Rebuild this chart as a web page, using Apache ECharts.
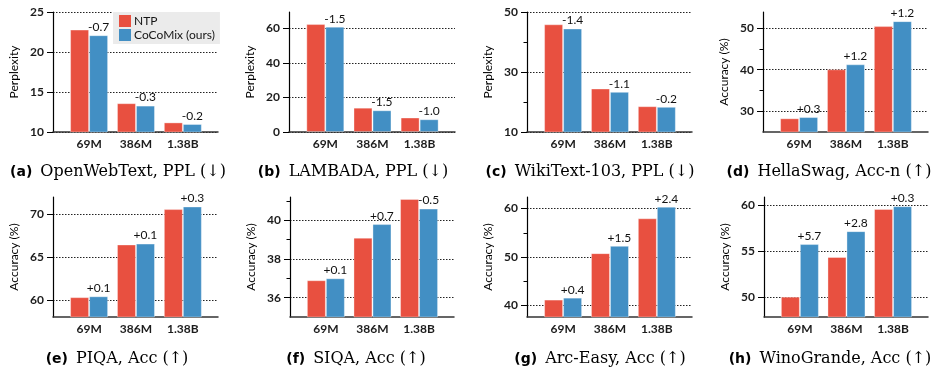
<!DOCTYPE html>
<html><head><meta charset="utf-8">
<script src="https://cdn.jsdelivr.net/npm/echarts@6/dist/echarts.min.js"></script>
<style>html,body{margin:0;padding:0;background:#fff}#c{width:937px;height:381px}</style>
</head><body><div id="c"></div>
<script>
// ---- data ----
const categories = ['69M', '386M', '1.38B'];
const seriesNames = ['NTP', 'CoCoMix (ours)'];
const panelLetters = ['(a)', '(b)', '(c)', '(d)', '(e)', '(f)', '(g)', '(h)'];
const panelTitles = ['OpenWebText, PPL (↓)', 'LAMBADA, PPL (↓)', 'WikiText-103, PPL (↓)', 'HellaSwag, Acc-n (↑)',
                     'PIQA, Acc (↑)', 'SIQA, Acc (↑)', 'Arc-Easy, Acc (↑)', 'WinoGrande, Acc (↑)'];
const yAxisNames = ['Perplexity', 'Perplexity', 'Perplexity', 'Accuracy (%)',
                    'Accuracy (%)', 'Accuracy (%)', 'Accuracy (%)', 'Accuracy (%)'];

const ntpA = [22.8, 13.6, 11.2];  const cocoA = [22.1, 13.3, 11.0];  const diffA = ['-0.7', '-0.3', '-0.2'];
const ntpB = [62.6, 14.1, 8.4];   const cocoB = [61.1, 12.6, 7.4];   const diffB = ['-1.5', '-1.5', '-1.0'];
const ntpC = [45.9, 24.5, 18.6];  const cocoC = [44.5, 23.4, 18.4];  const diffC = ['-1.4', '-1.1', '-0.2'];
const ntpD = [28.3, 40.1, 50.5];  const cocoD = [28.6, 41.3, 51.7];  const diffD = ['+0.3', '+1.2', '+1.2'];
const ntpE = [60.4, 66.5, 70.6];  const cocoE = [60.5, 66.6, 70.9];  const diffE = ['+0.1', '+0.1', '+0.3'];
const ntpF = [36.9, 39.1, 41.1];  const cocoF = [37.0, 39.8, 40.6];  const diffF = ['+0.1', '+0.7', '-0.5'];
const ntpG = [41.2, 50.8, 58.0];  const cocoG = [41.6, 52.3, 60.4];  const diffG = ['+0.4', '+1.5', '+2.4'];
const ntpH = [50.1, 54.4, 59.6];  const cocoH = [55.8, 57.2, 59.9];  const diffH = ['+5.7', '+2.8', '+0.3'];

const yTicksA = [10, 15, 20, 25]; const yMinorA = [];
const yTicksB = [0, 20, 40, 60];  const yMinorB = [];
const yTicksC = [10, 30, 50];     const yMinorC = [20, 40];
const yTicksD = [30, 40, 50];     const yMinorD = [35, 45];
const yTicksE = [60, 65, 70];     const yMinorE = [];
const yTicksF = [36, 38, 40];     const yMinorF = [37, 39, 41];
const yTicksG = [40, 50, 60];     const yMinorG = [45, 55];
const yTicksH = [50, 55, 60];     const yMinorH = [];

const yRangeA = [10, 25];   const yRangeB = [0, 69.6];  const yRangeC = [10, 50];   const yRangeD = [25, 53.9];
const yRangeE = [58.1, 72]; const yRangeF = [35, 41.2]; const yRangeG = [37.6, 62.4]; const yRangeH = [47.9, 60.9];

const ntpAll = [ntpA, ntpB, ntpC, ntpD, ntpE, ntpF, ntpG, ntpH];
const cocoAll = [cocoA, cocoB, cocoC, cocoD, cocoE, cocoF, cocoG, cocoH];
const diffAll = [diffA, diffB, diffC, diffD, diffE, diffF, diffG, diffH];
const ticksAll = [yTicksA, yTicksB, yTicksC, yTicksD, yTicksE, yTicksF, yTicksG, yTicksH];
const minorAll = [yMinorA, yMinorB, yMinorC, yMinorD, yMinorE, yMinorF, yMinorG, yMinorH];
const rangeAll = [yRangeA, yRangeB, yRangeC, yRangeD, yRangeE, yRangeF, yRangeG, yRangeH];

// ---- layout / style ----
const RED = '#E85040', BLUE = '#428FC4';
const SANS = 'Lato, "DejaVu Sans", sans-serif';
const layout = [
  {left: 53, top: 12, width: 165, cap: 118, capTop: 164},
  {left: 289, top: 12, width: 166, cap: 353, capTop: 164},
  {left: 527, top: 12, width: 165, cap: 590, capTop: 164},
  {left: 763, top: 12, width: 165, cap: 829, capTop: 164},
  {left: 53, top: 197, width: 165, cap: 117, capTop: 351},
  {left: 290, top: 197, width: 164, cap: 356, capTop: 351},
  {left: 527, top: 197, width: 165, cap: 600, capTop: 351},
  {left: 764, top: 197, width: 164, cap: 830, capTop: 351}
];
const PLOT_H = 120;
const tickFont = {fontFamily: SANS, fontSize: 12, fontWeight: 'bold', color: '#1c1c1c'};

const grid = [], xAxis = [], yAxis = [], series = [], title = [];
layout.forEach((L, i) => {
  grid.push({left: L.left, top: L.top, width: L.width, height: PLOT_H, containLabel: false});
  xAxis.push({
    gridIndex: i, type: 'value', min: -0.77, max: 2.75,
    axisLine: {show: true, onZero: false, lineStyle: {color: '#333', width: 1.5}},
    axisTick: {show: false}, splitLine: {show: false},
    axisLabel: Object.assign({customValues: [0, 1, 2], formatter: v => categories[Math.round(v)], margin: 6}, tickFont)
  });
  yAxis.push({
    gridIndex: i, type: 'value', min: rangeAll[i][0], max: rangeAll[i][1],
    name: yAxisNames[i], nameLocation: 'middle', nameGap: 33,
    nameTextStyle: {fontFamily: SANS, fontSize: 12, color: '#000'},
    axisLine: {show: true, onZero: false, lineStyle: {color: '#000', width: 1.2}},
    axisTick: {show: true, length: 6, customValues: ticksAll[i], lineStyle: {color: '#000', width: 1}},
    axisLabel: Object.assign({customValues: ticksAll[i], margin: 9}, tickFont),
    splitLine: {show: true, lineStyle: {type: [1.5, 1.5], color: '#222', width: 1}}
  });
});
// minor tick overlay axes
layout.forEach((L, i) => {
  if (!minorAll[i].length) return;
  yAxis.push({
    gridIndex: i, type: 'value', min: rangeAll[i][0], max: rangeAll[i][1], position: 'left',
    axisLine: {show: false, onZero: false},
    axisTick: {show: true, length: 3.5, customValues: minorAll[i], lineStyle: {color: '#000', width: 1}},
    axisLabel: {show: false}, splitLine: {show: false}
  });
});
layout.forEach((L, i) => {
  series.push({
    type: 'bar', name: seriesNames[0], xAxisIndex: i, yAxisIndex: i,
    data: ntpAll[i].map((v, j) => [j, v]), barWidth: 19, barGap: '0%',
    itemStyle: {color: RED, borderColor: 'rgba(255,255,255,0.35)', borderWidth: 1}
  });
  series.push({
    type: 'bar', name: seriesNames[1], xAxisIndex: i, yAxisIndex: i,
    data: cocoAll[i].map((v, j) => [j, v]), barWidth: 19, barGap: '0%',
    itemStyle: {color: BLUE, borderColor: 'rgba(255,255,255,0.35)', borderWidth: 1},
    label: Object.assign({show: true, position: 'top', distance: 2, formatter: p => diffAll[i][p.dataIndex]}, tickFont, {fontWeight: 'normal', color: '#111'})
  });
  title.push({
    left: L.cap, top: L.capTop, textAlign: 'center', padding: 0,
    text: '{b|' + panelLetters[i] + '}{t|' + panelTitles[i] + '}',
    textStyle: {fontWeight: 'normal', rich: {
      b: {fontFamily: '"DejaVu Sans", sans-serif', fontWeight: 'bold', fontSize: 14, color: '#000', padding: [0, 8, 0, 0]},
      t: {fontFamily: '"DejaVu Serif", serif', fontWeight: 'normal', fontSize: 16, color: '#000'}
    }}
  });
});

const chart = echarts.init(document.getElementById('c'), null, {renderer: 'canvas'});
chart.setOption({
  animation: false,
  backgroundColor: '#fff',
  title: title,
  legend: {
    data: seriesNames, left: 113, top: 12, orient: 'vertical', icon: 'rect',
    itemWidth: 12, itemHeight: 12, itemGap: 2, padding: [3, 5, 3, 6],
    backgroundColor: '#ebebeb', borderRadius: 0,
    itemStyle: {borderWidth: 0},
    textStyle: {fontFamily: SANS, fontSize: 12, color: '#161616', padding: [0, 0, 0, -2]}
  },
  grid: grid, xAxis: xAxis, yAxis: yAxis, series: series
});
</script></body></html>
